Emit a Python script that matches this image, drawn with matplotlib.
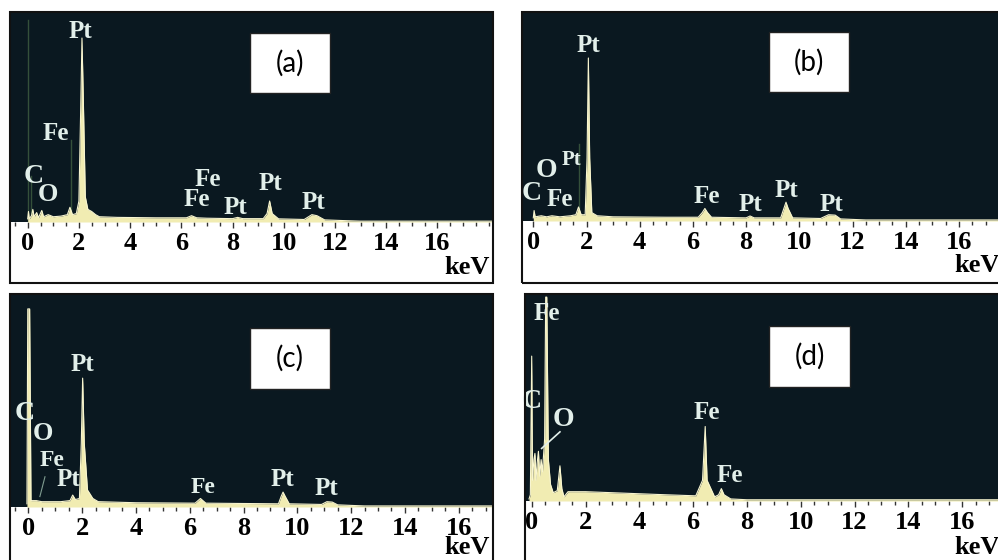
import matplotlib
matplotlib.use("Agg")
import matplotlib.pyplot as plt
from matplotlib.patches import Rectangle
from matplotlib.ticker import MultipleLocator

W, H = 998, 560

# EDS spectra, energy in keV, counts in % of full scale
kev_a = [0.0, 0.03, 0.06, 0.15, 0.2, 0.25, 0.35, 0.42, 0.55, 0.62, 0.8, 1.0, 1.3, 1.55, 1.65, 1.75,
         1.9, 2.0, 2.08, 2.12, 2.17, 2.25, 2.35, 2.5, 2.65, 2.8, 3.5, 5.0, 6.2, 6.4, 6.6, 7.0, 8.0,
         8.2, 8.4, 9.2, 9.35, 9.45, 9.55, 9.8, 10.8, 11.1, 11.3, 11.6, 12.5, 13.0, 18.3]
cts_a = [1.5, 5, 1.5, 3, 6, 2.5, 4.5, 2, 5.5, 2.5, 3.5, 2.5, 2.8, 3.5, 7, 3.5,
         4, 10, 60, 87.6, 60, 12, 6, 5, 3.5, 2.5, 2.2, 2, 2, 3, 2, 1.8, 1.6,
         2.2, 1.6, 1.6, 4, 10, 4, 1.5, 1.2, 3.5, 3, 1, 0.6, 0.4, 0.4]

kev_b = [0.0, 0.03, 0.07, 0.3, 0.5, 0.7, 1.0, 1.4, 1.6, 1.7, 1.8, 1.95, 2.02, 2.07, 2.12, 2.2, 2.4,
         3.0, 5.0, 6.2, 6.35, 6.45, 6.55, 6.7, 8.0, 8.15, 8.3, 9.3, 9.42, 9.5, 9.58, 9.75, 10.8,
         11.1, 11.35, 11.55, 12.5, 17.7]
cts_b = [1.5, 5, 2, 2.5, 2, 2.5, 2, 2.5, 3, 6.7, 3, 3, 30, 78, 30, 4, 2.5,
         2, 1.8, 1.8, 4, 6, 4, 1.8, 1.5, 2.4, 1.5, 1.5, 6, 9, 6, 1.5, 1.2,
         3, 2.8, 1, 0.5, 0.5]

kev_c = [-0.05, -0.02, 0.05, 0.1, 0.3, 0.5, 0.8, 1.2, 1.55, 1.65, 1.75, 1.9, 1.97, 2.02, 2.08, 2.2,
         2.4, 2.6, 4.0, 6.2, 6.4, 6.6, 9.3, 9.4, 9.47, 9.55, 9.7, 10.9, 11.1, 11.3, 11.5, 12.5, 17.3]
cts_c = [1.5, 93, 93, 3, 3, 2.5, 2.5, 2.5, 3, 5.6, 3.5, 4, 30, 60.5, 30, 8,
         4, 2.5, 2, 1.8, 4, 1.8, 1.5, 5, 7, 5, 1.5, 1.2, 2.5, 2.3, 1, 0.5, 0.5]

kev_d = [-0.1, -0.05, 0.0, 0.03, 0.08, 0.12, 0.16, 0.2, 0.25, 0.3, 0.35, 0.4, 0.48, 0.52, 0.56,
         0.62, 0.7, 0.8, 0.95, 1.05, 1.12, 1.2, 1.35, 2.0, 3.0, 4.0, 5.0, 6.1, 6.35, 6.45, 6.52,
         6.8, 6.95, 7.05, 7.15, 7.4, 8.0, 17.6]
cts_d = [1, 3, 70, 10, 20, 23, 10, 18, 24, 12, 20, 14, 30, 98.5, 98.5,
         20, 8, 4, 5, 17, 6, 2, 4.5, 4.5, 4, 3.5, 3, 2.5, 10, 36, 10,
         2, 3, 6, 3, 1, 0.6, 0.6]

# peak labels: (element, keV, % of full scale, font size)
labels_a = [("Pt", 2.07, 90.6, 18), ("Fe", 1.1, 42, 18), ("C", 0.22, 21.6, 20), ("O", 0.8, 12.9, 19),
            ("Fe", 7.05, 20, 18), ("Fe", 6.6, 10.5, 18), ("Pt", 8.1, 7, 18), ("Pt", 9.5, 18.4, 18),
            ("Pt", 11.16, 9.2, 18)]
labels_b = [("Pt", 2.07, 84.2, 18), ("O", 0.5, 24.4, 20), ("Pt", 1.44, 29.2, 15), ("C", -0.06, 13.2, 20),
            ("Fe", 0.98, 10.4, 18), ("Fe", 6.52, 11.6, 18), ("Pt", 8.15, 8.1, 18), ("Pt", 9.5, 14.8, 18),
            ("Pt", 11.2, 8.1, 18)]
labels_c = [("Pt", 2.02, 66.7, 18), ("C", -0.12, 44, 20), ("O", 0.53, 34.3, 19), ("Fe", 0.87, 22, 17),
            ("Pt", 1.49, 12.7, 18), ("Fe", 6.48, 9.2, 17), ("Pt", 9.46, 12.7, 18), ("Pt", 11.09, 8.8, 18)]
labels_d = [("Fe", 0.56, 90.7, 18), ("C", 0.0, 47.9, 20), ("O", 1.18, 39.4, 20), ("Fe", 6.5, 42.8, 18),
            ("Fe", 7.35, 12.4, 18)]

tick_keV = list(range(0, 17, 2))

# panel geometry in pixels: dark plot area, strip bottom, zero position, px per keV, tag box
panels = [
    dict(tag="(a)", kev=kev_a, cts=cts_a, labels=labels_a, x0=10, x1=493, y0=12, y1=222, yb=283,
         zero=27.7, scale=25.6, box=(250, 33, 330, 93), kev_y=267),
    dict(tag="(b)", kev=kev_b, cts=cts_b, labels=labels_b, x0=522, x1=1003, y0=12, y1=221, yb=283,
         zero=533.3, scale=26.6, box=(769, 32, 849, 92), kev_y=265),
    dict(tag="(c)", kev=kev_c, cts=cts_c, labels=labels_c, x0=10, x1=493, y0=294, y1=507, yb=566,
         zero=28.3, scale=26.9, box=(250, 328, 330, 389), kev_y=548),
    dict(tag="(d)", kev=kev_d, cts=cts_d, labels=labels_d, x0=525, x1=1003, y0=294, y1=501, yb=566,
         zero=531.7, scale=26.9, box=(769, 326, 850, 387), kev_y=547),
]

BG = "#0a1820"
FILL = "#f1ecb2"
LABEL = "#e2efea"
DIM = "#34503a"
SERIF = "Liberation Serif"

fig = plt.figure(figsize=(W / 100, H / 100), dpi=100)
fig.patch.set_facecolor("white")


def fx(x):
    return x / W


def fy(y):
    return 1 - y / H


for p in panels:
    ax = fig.add_axes([fx(p["x0"]), fy(p["y1"]), fx(p["x1"]) - fx(p["x0"]), fy(p["y0"]) - fy(p["y1"])])
    ax.set_facecolor(BG)
    ax.set_xlim(-(p["zero"] - p["x0"]) / p["scale"], (p["x1"] - p["zero"]) / p["scale"])
    ax.set_ylim(0, 100)
    for s in ax.spines.values():
        s.set_visible(False)
    ax.set_yticks([])

    ax.fill_between(p["kev"], p["cts"], 0, color=FILL, lw=0, zorder=2)
    ax.plot(p["kev"], p["cts"], color="#f8f5d0", lw=0.8, zorder=3)

    for txt, x, y, fs in p["labels"]:
        ax.text(x, y, txt, color=LABEL, fontsize=fs, fontweight="bold", family=SERIF,
                ha="center", va="center", zorder=4)

    ax.set_xticks(tick_keV)
    ax.set_xticklabels([str(t) for t in tick_keV])
    ax.xaxis.set_minor_locator(MultipleLocator(0.5))
    ax.tick_params(axis="x", which="both", direction="out", length=3, width=1, color="#333333", pad=3)
    ax.tick_params(axis="x", which="major", length=4)
    for lbl in ax.get_xticklabels():
        lbl.set_fontsize(19)
        lbl.set_fontweight("bold")
        lbl.set_family(SERIF)

    # panel frame around plot area and white axis strip
    fig.add_artist(Rectangle((fx(p["x0"]), fy(p["yb"])), fx(p["x1"]) - fx(p["x0"]), fy(p["y0"]) - fy(p["yb"]),
                             transform=fig.transFigure, fill=False, ec="#111111", lw=1.5, zorder=5))
    fig.text(fx(p["x1"] - 3), fy(p["kev_y"]), "keV", fontsize=19, fontweight="bold",
             family=SERIF, ha="right", va="center")

    bx0, by0, bx1, by1 = p["box"]
    fig.add_artist(Rectangle((fx(bx0), fy(by1)), fx(bx1) - fx(bx0), fy(by0) - fy(by1),
                             transform=fig.transFigure, fc="white", ec="#222222", lw=1, zorder=6))
    fig.text(fx((bx0 + bx1) / 2), fy((by0 + by1) / 2), p["tag"], fontsize=20, family="Lato",
             ha="center", va="center", zorder=7)

    p["ax"] = ax

# faint marker lines and leader lines
ax_a, ax_b, ax_c, ax_d = (p["ax"] for p in panels)
ax_a.plot([0.0, 0.0], [0, 96], color=DIM, lw=1, zorder=1)
ax_a.plot([0.13, 0.13], [0, 22], color=DIM, lw=1, zorder=1)
ax_a.plot([1.68, 1.68], [0, 39], color=DIM, lw=1, zorder=1)
ax_b.plot([1.7, 1.7], [0, 37], color=DIM, lw=1, zorder=1)
ax_c.plot([0.62, 0.43], [14.2, 4.9], color="#7f9c90", lw=0.8, zorder=3)
ax_d.plot([1.05, 0.37], [33.4, 25.4], color=LABEL, lw=1.2, zorder=4)

fig.savefig("out.png", dpi=100)
